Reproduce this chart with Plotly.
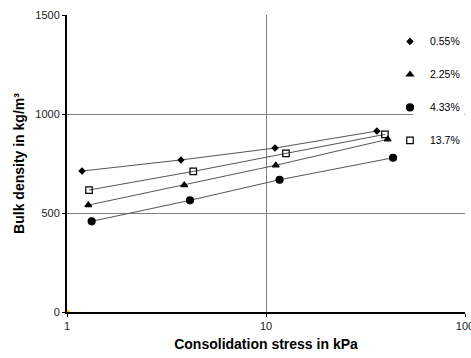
import plotly.graph_objects as go

series_names = ["0.55%", "2.25%", "4.33%", "13.7%"]
stress_055 = [1.19, 3.74, 11.1, 36.1]
density_055 = [712, 768, 828, 914]
stress_225 = [1.28, 3.88, 11.2, 40.9]
density_225 = [540, 641, 741, 872]
stress_433 = [1.33, 4.15, 11.7, 43.5]
density_433 = [458, 564, 668, 779]
stress_137 = [1.29, 4.31, 12.6, 39.6]
density_137 = [616, 710, 801, 897]
origin_x = [1]
origin_y = [0]

xs = [stress_055, stress_225, stress_433, stress_137]
ys = [density_055, density_225, density_433, density_137]
symbols = ["diamond", "triangle-up", "circle", "square-open"]
sizes = [4.5, 6, 7, 6.5]

fig = go.Figure()
for i in range(4):
    fig.add_trace(go.Scatter(x=xs[i], y=ys[i], mode="lines",
                             line=dict(color="#555555", width=1),
                             showlegend=False, hoverinfo="skip"))
for i in range(4):
    fig.add_trace(go.Scatter(x=xs[i], y=ys[i], mode="markers", name=series_names[i],
                             marker=dict(symbol=symbols[i], size=sizes[i], color="black",
                                         line=dict(color="black", width=1.2)),
                             legendgroup=series_names[i]))
fig.add_trace(go.Scatter(x=origin_x, y=origin_y, mode="markers",
                         marker=dict(color="#FFC000", size=5), showlegend=False,
                         cliponaxis=False))

# white gap in the 1000 gridline behind the legend
fig.add_shape(type="rect", xref="paper", yref="paper", x0=0.87, x1=0.998,
              y0=0.655, y1=0.677, fillcolor="white", line=dict(width=0), layer="above")

fig.update_layout(
    width=471, height=358,
    margin=dict(l=67, r=6, t=15, b=46, autoexpand=False),
    paper_bgcolor="white", plot_bgcolor="white",
    font=dict(family="Liberation Sans, Arial", color="black"),
    showlegend=True,
    legend=dict(x=1, xanchor="right", y=0.96, yanchor="top",
                bgcolor="rgba(0,0,0,0)", font=dict(size=10.5), tracegroupgap=14,
                itemwidth=30),
    xaxis=dict(type="log", range=[0, 2], tickvals=[1, 10, 100], ticktext=["1", "10", "100"],
               showgrid=True, gridcolor="#808080", gridwidth=1,
               showline=True, linecolor="black", linewidth=2,
               ticks="outside", ticklen=3, tickcolor="black",
               tickfont=dict(size=11, color="#222222"),
               ticklabeloverflow="allow", automargin=False,
               title=dict(text="<b>Consolidation stress in kPa</b>", font=dict(size=14), standoff=8),
               zeroline=False),
    yaxis=dict(range=[0, 1500], tickvals=[0, 500, 1000, 1500],
               showgrid=True, gridcolor="#808080", gridwidth=1,
               showline=True, linecolor="black", linewidth=2,
               ticks="outside", ticklen=3, tickcolor="black",
               tickfont=dict(size=11, color="#222222"),
               automargin=False,
               title=dict(text="<b>Bulk density in kg/m³</b>", font=dict(size=14), standoff=7),
               zeroline=False),
)

fig.write_html("out.html")
